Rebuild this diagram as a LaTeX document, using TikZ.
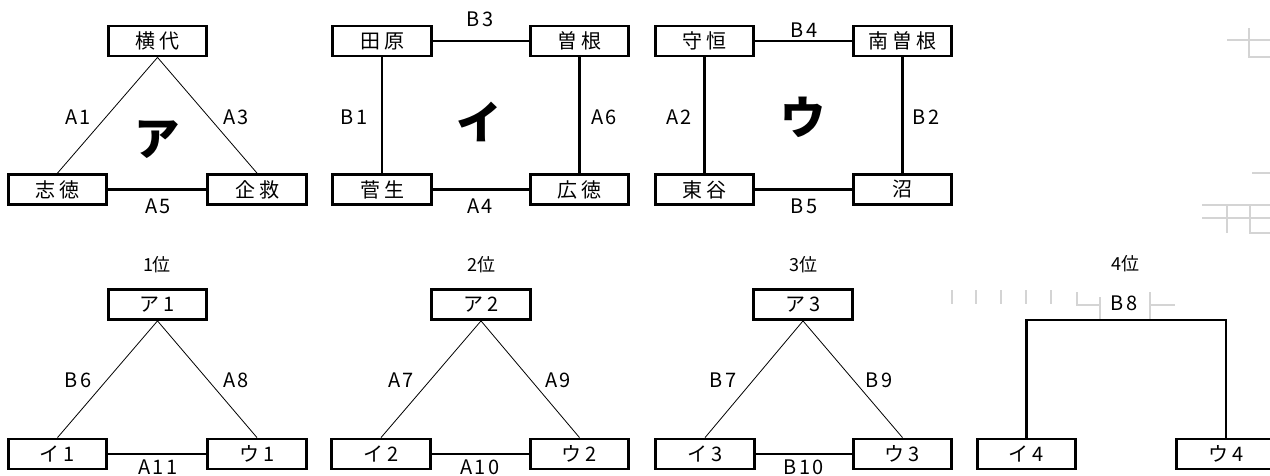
\documentclass[tikz,border=0pt]{standalone}
\usepackage{fontspec}
\setmainfont{Noto Sans CJK JP}
\newfontfamily\jpbox[LetterSpace=20]{Noto Sans CJK JP}
\newfontfamily\jplbl[LetterSpace=12]{Noto Sans CJK JP}
\tikzset{
  box/.style={draw, line width=2.1pt, minimum width=74pt, minimum height=22.5pt, inner sep=0pt,
              font=\jpbox\fontsize{15}{15}\selectfont},
  thinline/.style={line width=0.6pt},
  thickline/.style={line width=1.9pt},
  lbl/.style={inner sep=0pt, font=\jplbl\fontsize{15}{15}\selectfont},
  bigkana/.style={inner sep=0pt, font=\bfseries\fontsize{34}{34}\selectfont},
  rank/.style={inner sep=0pt, font=\fontsize{13.5}{13.5}\selectfont},
  ghost/.style={draw=black!17, line width=1.2pt}
}
\begin{document}
\begin{tikzpicture}[x=0.75pt,y=-0.75pt]
\useasboundingbox (0,0) rectangle (1270,475);
% faint artifacts
\draw[ghost] (1227,40) -- (1270,40);
\draw[ghost] (1249,28) -- (1249,57) -- (1270,57);
\draw[ghost] (1252,173) -- (1270,173);
\draw[ghost] (1202,205) -- (1270,205);
\draw[ghost] (1202,218) -- (1270,218);
\draw[ghost] (1227,205) -- (1227,233);
\draw[ghost] (1250,205) -- (1250,233) -- (1270,233);
\foreach \xx in {952,976,1001,1026,1051} \draw[ghost] (\xx,290) -- (\xx,304);
\draw[ghost] (1077,292) -- (1077,305) -- (1100,305);
\draw[ghost] (1100,297) -- (1100,320);
\draw[ghost] (1150,292) -- (1150,320);
\draw[ghost] (1150,305) -- (1175,305);

% ===== group ア =====
\node[box] (yokoshiro) at (157.5,41) {横代};
\node[box] (shitoku) at (57.5,189.5) {志徳};
\node[box] (kigu) at (257,189.5) {企救};
\draw[thinline] (yokoshiro.south) -- (shitoku.north);
\draw[thinline] (yokoshiro.south) -- (kigu.north);
\draw[thickline] (shitoku.east) -- (kigu.west);
\node[lbl] (lA1) at (78,117) {A1};
\node[lbl] (lA3) at (236,117) {A3};
\node[lbl] (lA5) at (158,206) {A5};
\node[bigkana] (kA) at (157,140) {ア};

% ===== group イ =====
\node[box] (tahara) at (382,41) {田原};
\node[box] (sone) at (579.5,41) {曽根};
\node[box] (sugao) at (382,189.5) {菅生};
\node[box] (hirotoku) at (579.5,189.5) {広徳};
\draw[thickline] (tahara.east) -- (sone.west);
\draw[thickline] (tahara.south) -- (sugao.north);
\draw[thickline] (sone.south) -- (hirotoku.north);
\draw[thickline] (sugao.east) -- (hirotoku.west);
\node[lbl] (lB3) at (480,19) {B3};
\node[lbl] (lB1) at (354,117) {B1};
\node[lbl] (lA6) at (604,117) {A6};
\node[lbl] (lA4) at (480,206) {A4};
\node[bigkana] (kI) at (479,122) {イ};

% ===== group ウ =====
\node[box] (moritsune) at (704.5,41) {守恒};
\node[box] (minamisone) at (902.5,41) {南曽根};
\node[box] (higashitani) at (704.5,189.5) {東谷};
\node[box] (numa) at (902.5,189.5) {沼};
\draw[thickline] (moritsune.east) -- (minamisone.west);
\draw[thickline] (moritsune.south) -- (higashitani.north);
\draw[thickline] (minamisone.south) -- (numa.north);
\draw[thickline] (higashitani.east) -- (numa.west);
\node[lbl] (lB4) at (804,30) {B4};
\node[lbl] (lA2) at (679,117) {A2};
\node[lbl] (lB2) at (926,117) {B2};
\node[lbl] (lB5) at (804,206) {B5};
\node[bigkana] (kU) at (803,117) {ウ};

% ===== ranks =====
\node[rank] (r1) at (157,265) {1位};
\node[rank] (r2) at (481,265) {2位};
\node[rank] (r3) at (803,265) {3位};
\node[rank] (r4) at (1125,264) {4位};

% 1st
\node[box] (a1) at (157.5,304.5) {ア1};
\node[box] (i1) at (57.5,454) {イ1};
\node[box] (u1) at (257,454) {ウ1};
\draw[thinline] (a1.south) -- (i1.north);
\draw[thinline] (a1.south) -- (u1.north);
\draw[thickline] (i1.east) -- (u1.west);
\node[lbl] (lB6) at (78,380) {B6};
\node[lbl] (lA8) at (236,380) {A8};
\node[lbl] (lA11) at (158,467) {A11};

% 2nd
\node[box] (a2) at (481,304.5) {ア2};
\node[box] (i2) at (381,454) {イ2};
\node[box] (u2) at (579.5,454) {ウ2};
\draw[thinline] (a2.south) -- (i2.north);
\draw[thinline] (a2.south) -- (u2.north);
\draw[thickline] (i2.east) -- (u2.west);
\node[lbl] (lA7) at (401,380) {A7};
\node[lbl] (lA9) at (558,380) {A9};
\node[lbl] (lA10) at (480,467) {A10};

% 3rd
\node[box] (a3) at (803,304.5) {ア3};
\node[box] (i3) at (705,454) {イ3};
\node[box] (u3) at (902.5,454) {ウ3};
\draw[thinline] (a3.south) -- (i3.north);
\draw[thinline] (a3.south) -- (u3.north);
\draw[thickline] (i3.east) -- (u3.west);
\node[lbl] (lB7) at (723,380) {B7};
\node[lbl] (lB9) at (879,380) {B9};
\node[lbl] (lB10) at (804,467) {B10};

% 4th
\node[box] (i4) at (1026.5,454) {イ4};
\node[box] (u4) at (1226,454) {ウ4};
\coordinate (topbar) at (1126,320);
\draw[thickline] (i4.north) |- (topbar) -| (u4.north);
\node[lbl] (lB8) at (1124,303) {B8};
\end{tikzpicture}
\end{document}
